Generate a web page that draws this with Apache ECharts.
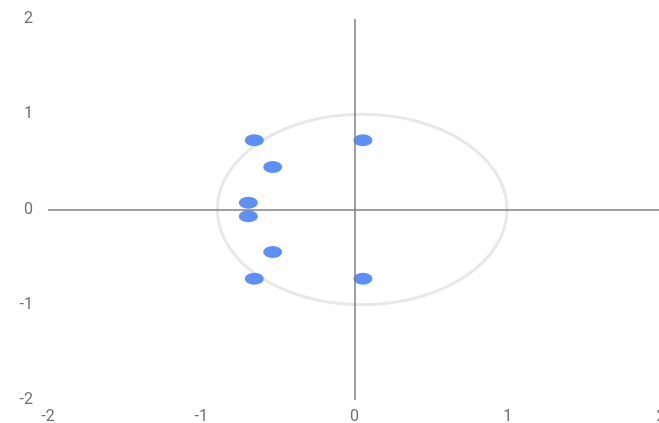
<!DOCTYPE html>
<html>
<head>
<meta charset="utf-8">
<script src="https://cdn.jsdelivr.net/npm/echarts@6/dist/echarts.min.js"></script>
<style>
  html, body { margin: 0; padding: 0; background: #fff; }
  #chart { width: 659px; height: 423px; }
</style>
</head>
<body>
<div id="chart"></div>
<script>
// Roots plotted in the complex plane: [real, imaginary]
const roots = [
  [-0.654, 0.726],
  [0.055, 0.726],
  [-0.534, 0.445],
  [-0.693, 0.07],
  [-0.693, -0.07],
  [-0.534, -0.445],
  [-0.654, -0.726],
  [0.055, -0.726]
];

// Reference ring: [centerX, centerY, radiusX, radiusY] in axis units
const ring = [[0.05, 0, 0.945, 1.0]];

// Axis ticks
const xTicks = [-2, -1, 0, 1, 2];
const yTicks = [-2, -1, 0, 1, 2];

const chart = echarts.init(document.getElementById('chart'), null, { renderer: 'canvas' });

const labelStyle = { color: '#6E7079', fontSize: 16, fontFamily: 'Roboto, sans-serif' };

chart.setOption({
  animation: false,
  grid: { left: 48, right: -2, top: 19, bottom: 23, containLabel: false, outerBoundsMode: 'none' },
  xAxis: {
    type: 'value',
    min: xTicks[0],
    max: xTicks[xTicks.length - 1],
    interval: 1,
    axisLine: { show: false },
    axisTick: { show: false },
    splitLine: { show: false },
    axisLabel: Object.assign({ margin: 9 }, labelStyle)
  },
  yAxis: {
    type: 'value',
    min: yTicks[0],
    max: yTicks[yTicks.length - 1],
    interval: 1,
    axisLine: { show: false },
    axisTick: { show: false },
    splitLine: { show: false },
    axisLabel: Object.assign({ margin: 15 }, labelStyle)
  },
  series: [
    {
      type: 'custom',
      silent: true,
      data: ring,
      z: 1,
      renderItem: function (params, api) {
        const c = api.coord([api.value(0), api.value(1)]);
        const s = api.size([api.value(2), api.value(3)]);
        return {
          type: 'ellipse',
          shape: { cx: c[0], cy: c[1], rx: s[0], ry: s[1] },
          style: { fill: 'none', stroke: '#e8e8e8', lineWidth: 3 }
        };
      }
    },
    {
      type: 'scatter',
      data: roots,
      symbol: 'circle',
      symbolSize: [19, 12],
      itemStyle: { color: '#5B8FF9', opacity: 1 },
      z: 3,
      markLine: {
        silent: true,
        symbol: 'none',
        label: { show: false },
        lineStyle: { color: '#808080', width: 1.5, type: 'solid' },
        data: [{ xAxis: 0 }, { yAxis: 0 }]
      }
    }
  ]
});
</script>
</body>
</html>
